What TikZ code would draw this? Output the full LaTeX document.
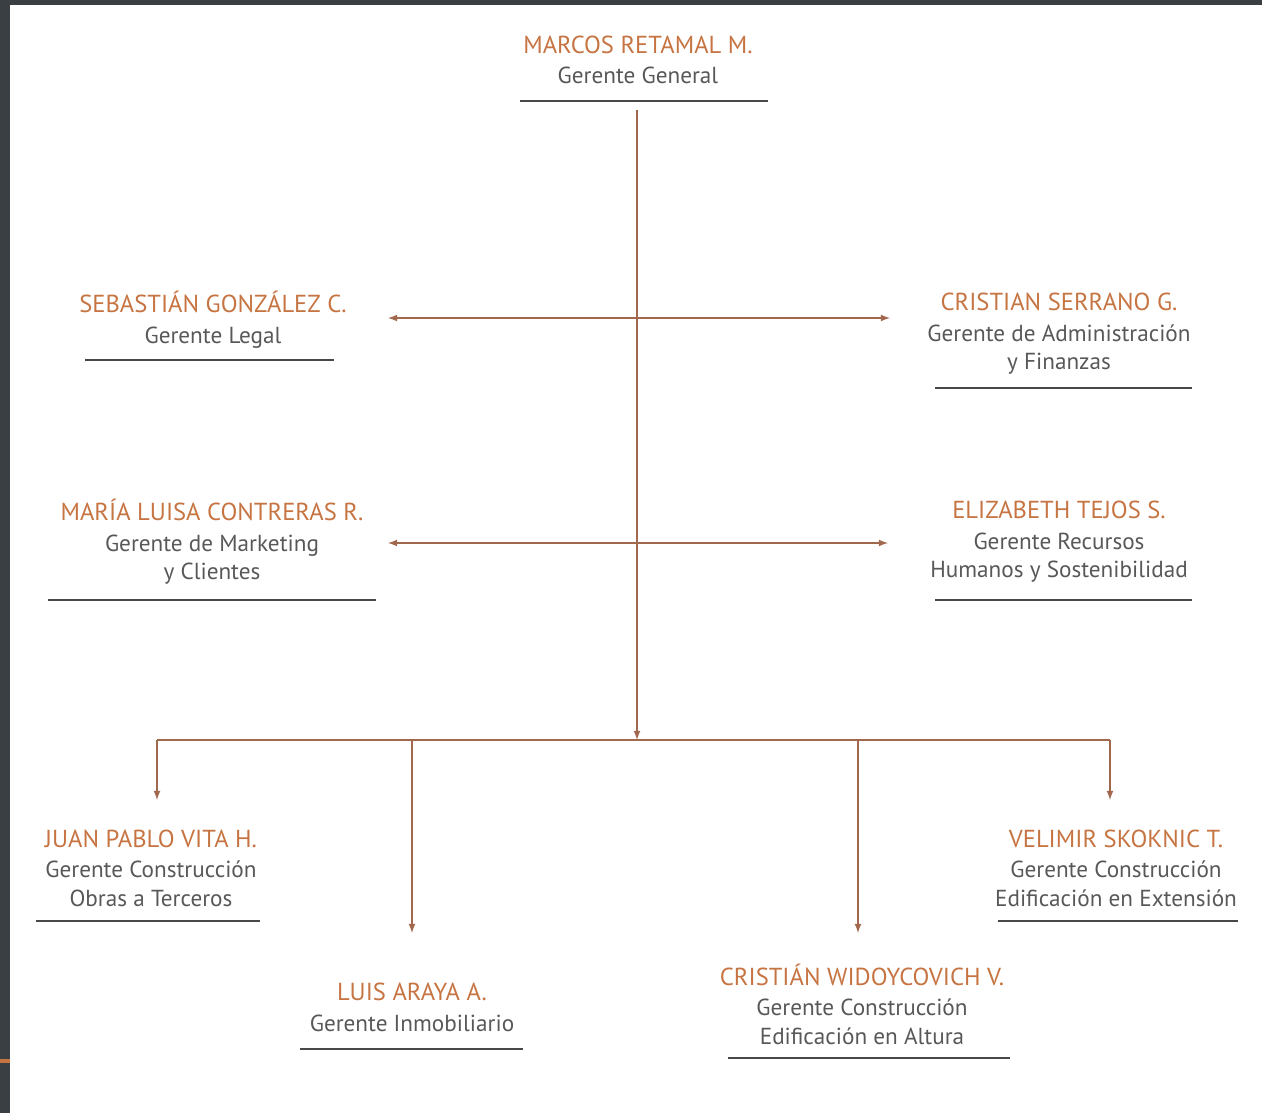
\documentclass[tikz,border=0pt]{standalone}
\usepackage{fontspec}
\setmainfont{PT Sans}
\usetikzlibrary{arrows,calc}
\definecolor{fondo}{RGB}{57,63,67}
\definecolor{nombre}{RGB}{198,116,66}
\definecolor{cargo}{RGB}{88,88,88}
\definecolor{linea}{RGB}{162,104,78}
\definecolor{regla}{RGB}{72,72,72}
\tikzset{
  persona/.style={align=center,inner sep=0pt,text=cargo,
    font=\fontsize{13.2}{16}\selectfont},
  conn/.style={draw=linea,line width=0.8pt},
  subrayado/.style={draw=regla,line width=0.8pt}
}
\newcommand{\nom}[1]{{\color{nombre}\fontsize{14}{16}\selectfont #1}\\[1.5pt]}

\begin{document}
\begin{tikzpicture}[x=0.02cm,y=-0.02cm]
\useasboundingbox (0,0) rectangle (1262,1113);
%marco
\fill[fondo] (0,0) rectangle (10,1113);
\fill[fondo] (0,0) rectangle (1262,5);
\fill[nombre] (0,1059) rectangle (10,1063);

%gerencia general
\node[persona] (gg) at (638,60) {\nom{MARCOS RETAMAL M.}Gerente General};
\draw[subrayado] (520,101) -- (768,101);

%primera fila
\node[persona] (legal) at (213,320) {\nom{SEBASTIÁN GONZÁLEZ C.}Gerente Legal};
\draw[subrayado] (85,360) -- (334,360);
\node[persona] (finanzas) at (1059,334) {\nom{CRISTIAN SERRANO G.}Gerente de Administración\\y Finanzas};
\draw[subrayado] (935,388) -- (1192,388);

%segunda fila
\node[persona] (marketing) at (212,542) {\nom{MARÍA LUISA CONTRERAS R.}Gerente de Marketing\\y Clientes};
\draw[subrayado] (48,600) -- (376,600);
\node[persona] (rrhh) at (1059,542) {\nom{ELIZABETH TEJOS S.}Gerente Recursos\\Humanos y Sostenibilidad};
\draw[subrayado] (935,600) -- (1192,600);

%gerencias de construccion
\node[persona] (obras) at (151,868) {\nom{JUAN PABLO VITA H.}Gerente Construcción\\Obras a Terceros};
\draw[subrayado] (36,921) -- (260,921);
\node[persona] (inmob) at (412,1007) {\nom{LUIS ARAYA A.}Gerente Inmobiliario};
\draw[subrayado] (300,1049) -- (523,1049);
\node[persona] (altura) at (862,1004) {\nom{CRISTIÁN WIDOYCOVICH V.}Gerente Construcción\\Edificación en Altura};
\draw[subrayado] (728,1058) -- (1010,1058);
\node[persona] (extension) at (1116,868) {\nom{VELIMIR SKOKNIC T.}Gerente Construcción\\Edificación en Extensión};
\draw[subrayado] (998,921) -- (1238,921);

%puntos de conexion
\coordinate (arriba) at (637,110);
\coordinate (bus) at (637,740);
\coordinate (f1l) at (388,318);
\coordinate (f1r) at (890,318);
\coordinate (f2l) at (388,543);
\coordinate (f2r) at (888,543);
\coordinate (bobras) at (157,740);
\coordinate (binmob) at (412,740);
\coordinate (baltura) at (858,740);
\coordinate (bext) at (1110,740);
\coordinate (aobras) at (157,800);
\coordinate (ainmob) at (412,933);
\coordinate (aaltura) at (858,933);
\coordinate (aext) at (1110,800);

%lineas
\draw[conn,-latex] (arriba) -- (bus);
\draw[conn,latex-latex] (f1l) -- (f1r);
\draw[conn,latex-latex] (f2l) -- (f2r);
\draw[conn] (bobras) -- (bext);
\draw[conn,-latex] (bobras) -- (aobras);
\draw[conn,-latex] (binmob) -- (ainmob);
\draw[conn,-latex] (baltura) -- (aaltura);
\draw[conn,-latex] (bext) -- (aext);
\end{tikzpicture}
\end{document}
